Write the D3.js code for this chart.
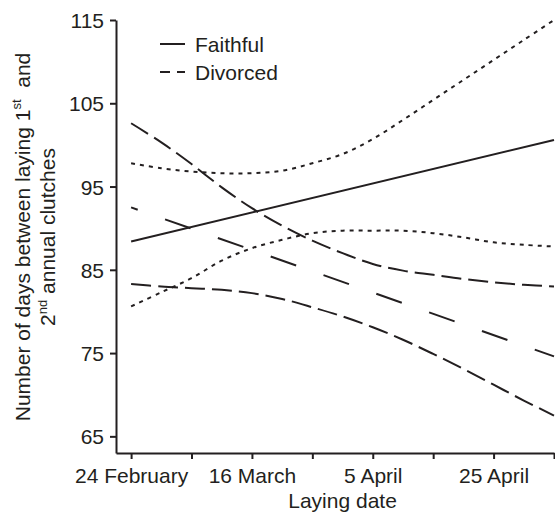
<!DOCTYPE html>
<html>
<head>
<meta charset="utf-8">
<script src="https://cdn.jsdelivr.net/npm/d3@7"></script>
<style>
  html, body { margin: 0; padding: 0; background: #fff; }
  svg text { font-family: "Liberation Sans", Arial, Helvetica, sans-serif; fill: #231f20; }
</style>
</head>
<body>
<svg id="chart" width="555" height="514"></svg>
<script>
// ---- data (day 0 = 24 February) ----
const tickDays = [0, 10, 20, 30, 40, 50, 60, 70];
const tickLabels = { 0: "24 February", 20: "16 March", 40: "5 April", 60: "25 April" };
const yTicks = [65, 75, 85, 95, 105, 115];

const faithfulDays = [0, 70];
const faithful = [88.4, 100.6];

const divorcedDays = [0, 70];
const divorced = [92.5, 74.6];

const ciDays = [0, 5, 10, 15, 20, 25, 30, 35, 40, 45, 50, 55, 60, 65, 70];
const divorcedUpper = [102.6, 100.3, 97.7, 94.9, 92.4, 90.3, 88.5, 87.0, 85.7, 84.9, 84.4, 83.9, 83.5, 83.2, 83.0];
const divorcedLower = [83.3, 83.0, 82.8, 82.6, 82.2, 81.5, 80.5, 79.4, 78.1, 76.6, 74.9, 73.1, 71.2, 69.3, 67.5];
const faithfulUpper = [97.8, 97.2, 96.8, 96.6, 96.6, 96.9, 97.8, 98.9, 100.7, 103.0, 105.4, 107.8, 110.2, 112.6, 115.0];
const faithfulLower = [80.6, 82.3, 84.0, 86.1, 87.6, 88.6, 89.4, 89.7, 89.7, 89.7, 89.4, 88.9, 88.3, 88.0, 87.8];

const legendNames = ["Faithful", "Divorced"];

// ---- layout ----
const svg = d3.select("#chart");
const ink = "#231f20";
const x = d3.scaleLinear().domain([-2.5, 70]).range([116, 554]);
const y = d3.scaleLinear().domain([63, 115]).range([453, 20]);

// axes
const xAxis = d3.axisBottom(x).tickValues(tickDays).tickSize(6).tickSizeOuter(0)
  .tickFormat(d => tickLabels[d] || "");
const gx = svg.append("g").attr("transform", "translate(0,453)").call(xAxis);
gx.select(".domain").attr("stroke", ink).attr("stroke-width", 2);
gx.selectAll(".tick line").attr("stroke", ink).attr("stroke-width", 2);
gx.selectAll(".tick text").attr("font-size", 21).attr("dy", null).attr("y", 30).attr("fill", ink);

const yAxis = d3.axisLeft(y).tickValues(yTicks).tickSize(6).tickSizeOuter(0);
const gy = svg.append("g").attr("transform", "translate(116,0)").call(yAxis);
gy.select(".domain").attr("stroke", ink).attr("stroke-width", 2);
gy.selectAll(".tick line").attr("stroke", ink).attr("stroke-width", 2);
gy.selectAll(".tick text").attr("font-size", 21).attr("x", -12).attr("dy", "0.36em").attr("fill", ink);

// lines
const line = d3.line().x(d => x(d[0])).y(d => y(d[1])).curve(d3.curveCatmullRom.alpha(0.5));
function draw(days, vals, dash, offset) {
  svg.append("path")
    .datum(days.map((d, i) => [d, vals[i]]))
    .attr("d", line)
    .attr("fill", "none")
    .attr("stroke", ink)
    .attr("stroke-width", 2)
    .attr("stroke-dasharray", dash)
    .attr("stroke-dashoffset", offset || 0);
}
draw(faithfulDays, faithful, null);
draw(divorcedDays, divorced, "27,29", 20);
draw(ciDays, divorcedUpper, "20,7");
draw(ciDays, divorcedLower, "20,7");
draw(ciDays, faithfulUpper, "4,5");
draw(ciDays, faithfulLower, "4,5");

// legend
const leg = svg.append("g");
const legDash = [null, "10,7"];
legendNames.forEach((n, i) => {
  const ly = 44 + i * 28;
  leg.append("line").attr("x1", 160).attr("x2", 185).attr("y1", ly).attr("y2", ly)
    .attr("stroke", ink).attr("stroke-width", 2).attr("stroke-dasharray", legDash[i]);
  leg.append("text").attr("x", 195).attr("y", ly + 7.5).attr("font-size", 21).text(n);
});

// axis titles
svg.append("text").attr("x", x(35)).attr("y", 508).attr("text-anchor", "middle")
  .attr("font-size", 21).text("Laying date");

const t1 = svg.append("text").attr("transform", "translate(29.5,237) rotate(-90)")
  .attr("text-anchor", "middle").attr("font-size", 21);
t1.append("tspan").text("Number of days between laying 1");
t1.append("tspan").attr("font-size", 13).attr("dy", "-0.65em").text("st");
t1.append("tspan").attr("dy", "0.42em").text("\u00a0 and");

const t2 = svg.append("text").attr("transform", "translate(55,237) rotate(-90)")
  .attr("text-anchor", "middle").attr("font-size", 21);
t2.append("tspan").text("2");
t2.append("tspan").attr("font-size", 13).attr("dy", "-0.65em").text("nd");
t2.append("tspan").attr("dy", "0.42em").text(" annual clutches");
</script>
</body>
</html>
